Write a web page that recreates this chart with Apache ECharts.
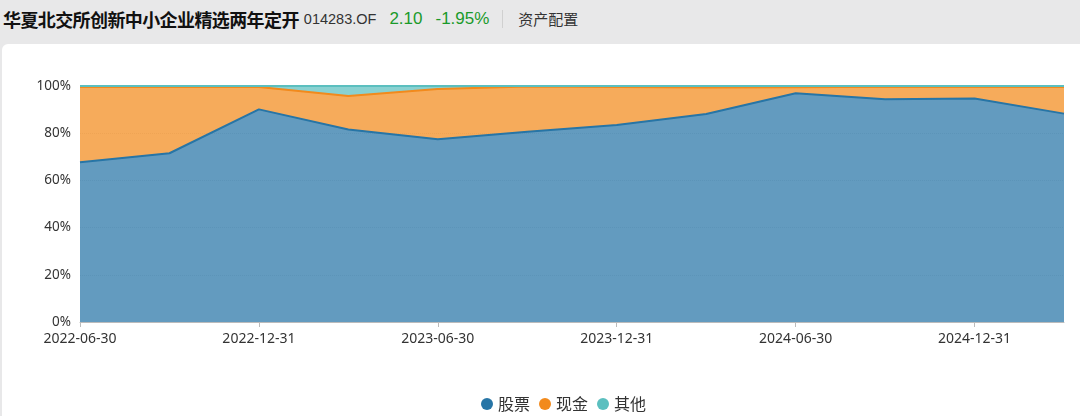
<!DOCTYPE html>
<html><head><meta charset="utf-8">
<script src="https://cdn.jsdelivr.net/npm/echarts@6/dist/echarts.min.js"></script>
<style>
html,body{margin:0;padding:0;width:1080px;height:416px;background:#e8e8e9;overflow:hidden;font-family:"Noto Sans CJK SC","Noto Sans",sans-serif;}
#hdr{position:absolute;left:0;top:0;width:1080px;height:37px;display:flex;align-items:center;white-space:nowrap;}
#card{position:absolute;left:2px;top:44px;width:1090px;height:400px;background:#fff;border-radius:6px;}
#chart{position:absolute;left:0;top:0;width:1080px;height:416px;}
.t{font-weight:bold;font-size:18px;color:#111;margin-left:3px;letter-spacing:-0.6px}
.c{font-size:14.5px;color:#333;margin-left:5px;font-family:"Liberation Sans",sans-serif}
.g{font-size:17px;color:#1a9a2a;font-family:"Liberation Sans",sans-serif}
.sep{width:1px;height:18px;background:#d0d0d0;margin-left:13px;}
.z{font-size:15px;color:#333;margin-left:15px}
</style></head><body>
<div id="hdr"><span class="t">华夏北交所创新中小企业精选两年定开</span><span class="c">014283.OF</span><span class="g" style="margin-left:13px">2.10</span><span class="g" style="margin-left:13px">-1.95%</span><span class="sep"></span><span class="z">资产配置</span></div>
<div id="card"></div>
<div id="chart"></div>
<script>
const categories = ["2022-06-30","2022-09-30","2022-12-31","2023-03-31","2023-06-30","2023-09-30","2023-12-31","2024-03-31","2024-06-30","2024-09-30","2024-12-31","2025-03-31"];
const stock = [67.7, 71.5, 90.1, 81.6, 77.4, 80.6, 83.5, 88.1, 96.9, 94.4, 94.7, 88.3];
const cash  = [31.9, 28.1, 9.5, 14.2, 21.3, 19.2, 16.1, 11.3, 2.6, 5.3, 4.9, 11.3];
const other = [0.4, 0.4, 0.4, 4.2, 1.3, 0.2, 0.4, 0.6, 0.5, 0.3, 0.4, 0.4];
const seriesNames = ["股票","现金","其他"];
const colors = ["#2775a6","#f28a1c","#5bbfbf"];

const chart = echarts.init(document.getElementById('chart'), null, {renderer:'canvas'});
const mk = (name, data, color) => ({
  name, type:'line', stack:'total', data, symbol:'none', smooth:false,
  lineStyle:{color, width:2}, itemStyle:{color},
  areaStyle:{color, opacity:0.72}
});
chart.setOption({
  animation:false,
  backgroundColor:'transparent',
  grid:{left:80, right:16, top:86, bottom:94},
  legend:{
    top:391, left:476, icon:'circle', itemWidth:12, itemHeight:12, itemGap:9,
    textStyle:{fontSize:16, color:'#333', fontFamily:'Noto Sans CJK SC'},
    data:seriesNames
  },
  xAxis:{
    type:'category', boundaryGap:false, data:categories,
    axisLine:{lineStyle:{color:'#bbb'}},
    axisTick:{alignWithLabel:true, interval:1, lineStyle:{color:'#bbb'}},
    axisLabel:{interval:1, color:'#333', fontSize:14, fontFamily:'Noto Sans', margin:10}
  },
  yAxis:{
    type:'value', min:0, max:100, interval:20,
    axisLabel:{formatter:v=>v+'%', color:'#333', fontSize:13.5, fontFamily:'Noto Sans', margin:9},
    axisLine:{show:false}, axisTick:{show:false},
    splitLine:{show:true, lineStyle:{color:'#e4e4e4', type:'dotted'}}
  },
  series:[mk(seriesNames[0], stock, colors[0]), mk(seriesNames[1], cash, colors[1]), mk(seriesNames[2], other, colors[2])]
});
</script>
</body></html>
